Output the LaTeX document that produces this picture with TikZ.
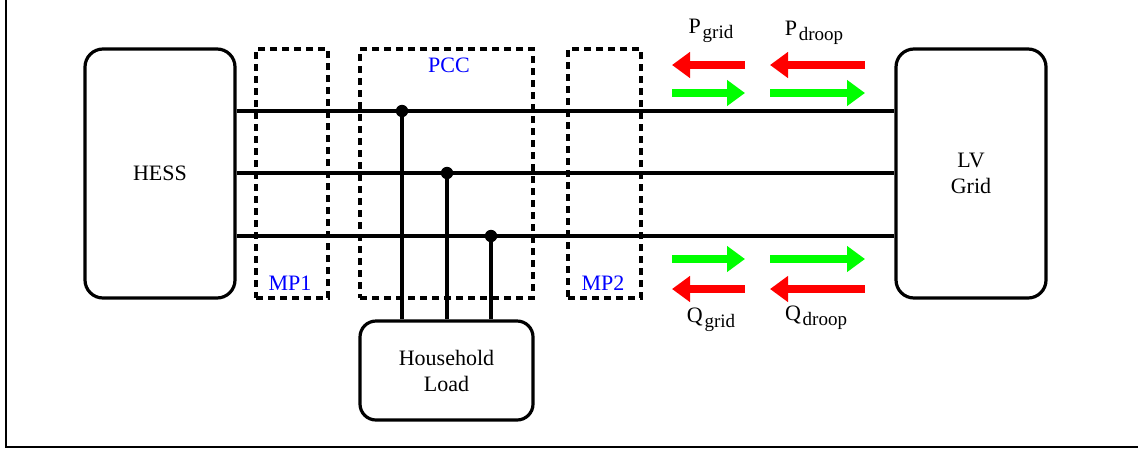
\documentclass[tikz,border=0pt]{standalone}
\usepackage{fontspec}
\setmainfont{Liberation Serif}
\usetikzlibrary{arrows.meta}

\newcommand{\flowsub}[2]{#1\kern0.08em\raisebox{-0.45ex}{\fontsize{9.5}{11}\selectfont #2}}

\begin{document}
\begin{tikzpicture}[
    x=0.5pt, y=-0.5pt,
    font=\fontsize{11}{13}\selectfont,
    unit/.style={draw, line width=1.6pt, rounded corners=9pt, align=center, minimum width=75pt, minimum height=124.5pt, inner sep=0pt},
    meter/.style={draw, line width=1.6pt, dash pattern=on 3.5pt off 2.5pt, minimum height=124.5pt, inner sep=0pt},
    bus/.style={line width=1.6pt},
    tag/.style={text=blue},
    fwd/.style={line width=4pt, -{Triangle[length=9pt, width=12.5pt]}, green},
    back/.style={line width=4pt, -{Triangle[length=9pt, width=12.5pt]}, red}
]

\useasboundingbox (0,0) rectangle (1138,450);

% frame
\draw[line width=0.6pt] (6,0) -- (6,447) -- (1138,447);

% sources
\node[unit] (HESS) at (160,173.5) {HESS};
\node[unit] (Grid) at (971,173.5) {LV\\Grid};
\node[unit, rounded corners=8pt, minimum width=86.5pt, minimum height=49.5pt] (Load) at (446.5,370.5) {Household\\Load};

% measurement points
\node[meter, minimum width=36pt] (MP1) at (292,173.5) {};
\node[meter, minimum width=86.5pt] (PCC) at (446.5,173.5) {};
\node[meter, minimum width=36.5pt] (MP2) at (604.5,173.5) {};
\node[tag] (MP1Label) at (290,283) {MP1};
\node[tag] (PCCLabel) at (449,65) {PCC};
\node[tag] (MP2Label) at (603,283) {MP2};

% phases
\coordinate (J1) at (402,111);
\coordinate (J2) at (447,173);
\coordinate (J3) at (491,236);
\foreach \j in {J1, J2, J3} {
    \draw[bus] (HESS.east |- \j) -- (Grid.west |- \j);
    \draw[bus] (\j) -- (Load.north -| \j);
    \fill (\j) circle (3.1pt);
}

% power flows
\draw[back] (745,65) -- (672,65);
\draw[back] (865,65) -- (770,65);
\draw[fwd] (672,93) -- (745,93);
\draw[fwd] (770,93) -- (865,93);
\draw[fwd] (672,259) -- (745,259);
\draw[fwd] (770,259) -- (865,259);
\draw[back] (745,289) -- (672,289);
\draw[back] (865,289) -- (770,289);

\node (PGrid) at (711,31) {\flowsub{P}{grid}};
\node (PDroop) at (814,33) {\flowsub{P}{droop}};
\node (QGrid) at (711,320) {\flowsub{Q}{grid}};
\node (QDroop) at (816,318) {\flowsub{Q}{droop}};

\end{tikzpicture}
\end{document}
